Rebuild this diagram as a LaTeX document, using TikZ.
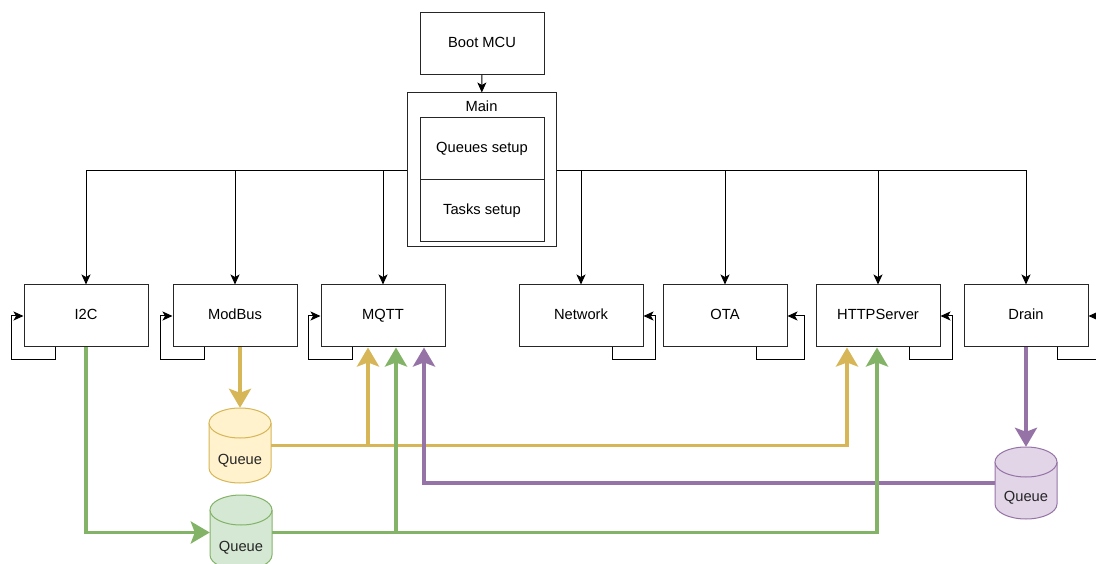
\documentclass[tikz,border=0pt]{standalone}
\usepackage{fontspec}
\setmainfont{Liberation Sans}
\usetikzlibrary{arrows.meta}
\usetikzlibrary{positioning}

\definecolor{qyellow}{HTML}{D6B656}
\definecolor{qyellowfill}{HTML}{FFF2CC}
\definecolor{qgreen}{HTML}{82B366}
\definecolor{qgreenfill}{HTML}{D5E8D4}
\definecolor{qpurple}{HTML}{9673A6}
\definecolor{qpurplefill}{HTML}{E1D5E7}

% x, y of top, height, line colour, fill colour
\newcommand{\queueshape}[5]{%
\fill[#5] (#1-31,#2+15) rectangle (#1+31,#2+#3-15);
\fill[#5] (#1,#2+#3-15) ellipse [x radius=31pt,y radius=15pt];
\draw[#4,line width=1pt] (#1-31,#2+15) -- (#1-31,#2+#3-15) .. controls (#1-31,#2+#3-6.72) and (#1-17.12,#2+#3) .. (#1,#2+#3) .. controls (#1+17.12,#2+#3) and (#1+31,#2+#3-6.72) .. (#1+31,#2+#3-15) -- (#1+31,#2+15);
\draw[#4,fill=#5,line width=1pt] (#1,#2+15) ellipse [x radius=31pt,y radius=15pt];
}

\begin{document}
\begin{tikzpicture}[x=1pt,y=-1pt,
  box/.style={rectangle,draw=black!85,line width=1pt,fill=white,minimum width=124pt,minimum height=62pt,inner sep=0pt,text height=10.5pt,text depth=3pt,font=\fontsize{14.7}{17}\selectfont},
  link/.style={draw=black,line width=1pt,-{Stealth[length=10pt,width=9pt,inset=2.5pt]}},
  flow/.style={line width=3.8pt,-{Stealth[length=19pt,width=22pt,inset=4pt]}},
  queue/.style={rectangle,minimum width=62pt,inner sep=0pt},
  qtext/.style={font=\fontsize{14.7}{17}\selectfont,text=black!85}]
\useasboundingbox (0,0) rectangle (1096,564);

\node[box] (boot) at (482,43.5) {Boot MCU};
\node[box,minimum width=149pt,minimum height=154pt,label={[anchor=north,yshift=-5pt,font=\fontsize{14.7}{17}\selectfont]north:Main}] (main) at (481.5,170) {};
\node[box] (qsetup) at (482,149) {Queues setup};
\node[box] (tsetup) at (482,211) {Tasks setup};
\draw[link] (boot) -- (main);

\node[box] (i2c) at (86,316) {I2C};
\node[box] (modbus) at (235,316) {ModBus};
\node[box] (mqtt) at (383,316) {MQTT};
\node[box] (net) at (581,316) {Network};
\node[box] (ota) at (725,316) {OTA};
\node[box] (http) at (878,316) {HTTPServer};
\node[box] (drain) at (1026,316) {Drain};

\foreach \t in {i2c,modbus,mqtt}
  \draw[link] ([yshift=-1pt]main.west) -| (\t);
\foreach \t in {net,ota,http,drain}
  \draw[link] ([yshift=-1pt]main.east) -| (\t);

\foreach \t in {i2c,modbus,mqtt}
  \draw[link] ([xshift=-31pt]\t.south) -- ++(0,12) -| ([xshift=-12pt]\t.west) -- (\t.west);
\foreach \t/\d in {net/12,ota/17,http/12,drain/12}
  \draw[link] ([xshift=31pt]\t.south) -- ++(0,12) -| ([xshift=\d pt]\t.east) -- (\t.east);

\queueshape{240}{408}{75}{qyellow}{qyellowfill}
\queueshape{241}{495}{75}{qgreen}{qgreenfill}
\queueshape{1026}{447}{72}{qpurple}{qpurplefill}
\node[queue,minimum height=75pt,label={[qtext,yshift=-15pt]center:Queue}] (yqueue) at (240,445.5) {};
\node[queue,minimum height=75pt,label={[qtext,yshift=-15pt]center:Queue}] (gqueue) at (241,532.5) {};
\node[queue,minimum height=72pt,label={[qtext,yshift=-15pt]center:Queue}] (pqueue) at (1026,483) {};

\draw[flow,qyellow] ([xshift=5pt]modbus.south) -- (yqueue.north);
\draw[flow,qyellow] (yqueue.east) -| ([xshift=-15pt]mqtt.south);
\draw[flow,qyellow] (yqueue.east) -| ([xshift=-31pt]http.south);
\draw[flow,qpurple] (drain.south) -- (pqueue.north);
\draw[flow,qpurple] (pqueue.west) -| ([xshift=41pt]mqtt.south);
\draw[flow,qgreen] (i2c.south) |- (gqueue.west);
\draw[flow,qgreen] (gqueue.east) -| ([xshift=13pt]mqtt.south);
\draw[flow,qgreen] (gqueue.east) -| ([xshift=-1pt]http.south);

\end{tikzpicture}
\end{document}
